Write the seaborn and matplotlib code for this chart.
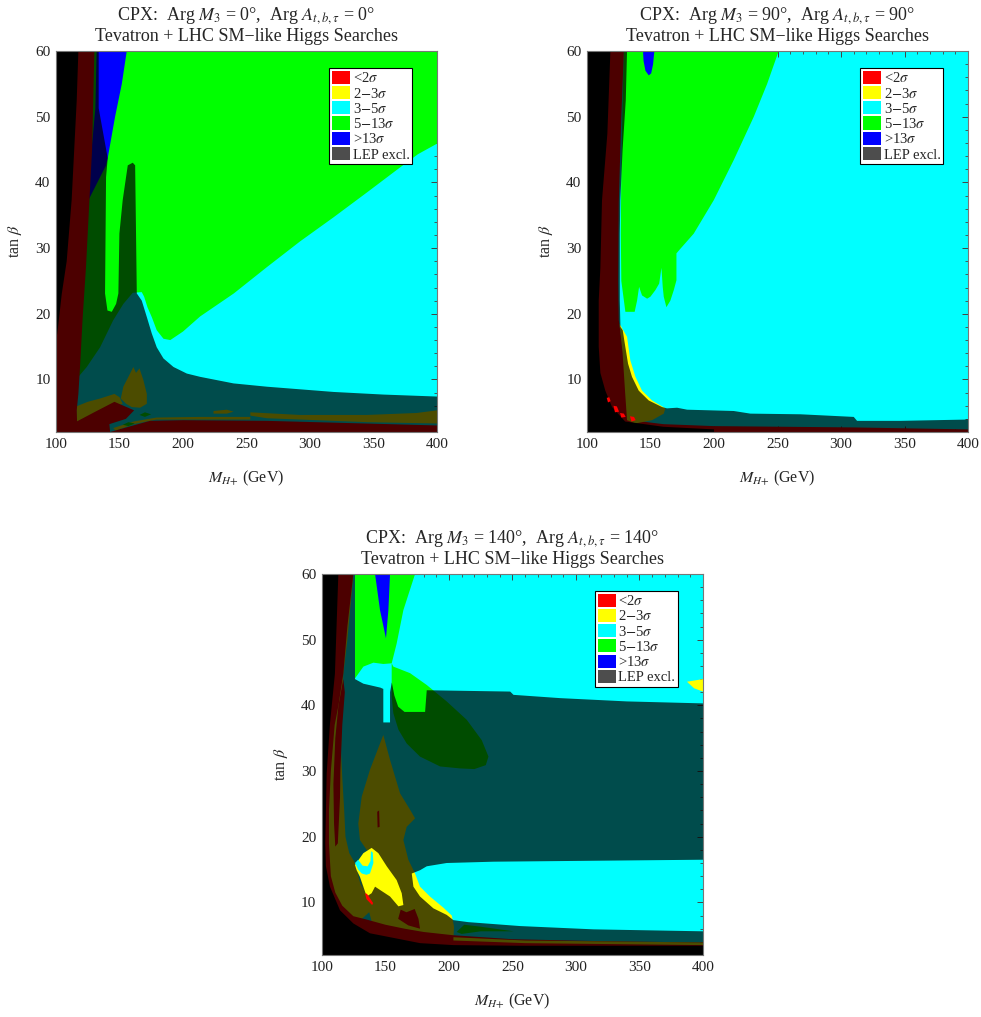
import numpy as np
import matplotlib.pyplot as plt
import seaborn as sns
from matplotlib.patches import Patch

sns.set_theme(style="ticks")
plt.rcParams['font.family'] = ['Liberation Serif', 'DejaVu Serif']
plt.rcParams['mathtext.fontset'] = 'stix'

# kolory obszarów (Mathematica)
RED = "#ff0000"
YELLOW = "#ffff00"
CYAN = "#00ffff"
GREEN = "#00ff00"
BLUE = "#0000ff"
LEP_GRAY = "#4d4d4d"

legend_labels = [r"<2$\sigma$", r"2$-$3$\sigma$", r"3$-$5$\sigma$",
                 r"5$-$13$\sigma$", r">13$\sigma$", "LEP excl."]
legend_colors = [RED, YELLOW, CYAN, GREEN, BLUE, LEP_GRAY]

phases = [0, 90, 140]

# ---------- panel 1: Arg = 0 (punkty: M_H+, tan beta) ----------
p1_green = [(100, 60), (400, 60), (400, 45.9), (385, 44.3), (371, 42.3), (345, 38.5),
            (318.6, 34.7), (292, 31), (266, 27.1), (240, 23.1), (213.5, 19.6), (200, 17.3),
            (190, 16), (184.6, 16.2), (179.3, 17.5), (175.4, 19.5), (172, 21), (169.4, 22.6),
            (167.5, 23.3), (160.4, 23.2), (153, 21.5), (145, 19), (134.7, 14.9),
            (124.2, 11.9), (117.6, 10.4), (100, 10.4)]
p1_blue = [(132, 60), (155.7, 60), (151.8, 55), (146.5, 50), (140.7, 43.7), (139.4, 42.6),
           (125, 37.1), (128, 45), (131, 51.3)]
p1_yellow_band = [(116, 5.9), (125, 6.6), (134.7, 7.1), (146, 7.8), (150, 7.3),
                  (152.5, 6.3), (140, 5.5), (116, 3.5)]
p1_yellow_island = [(151, 7.1), (153, 8.9), (157, 10.4), (160.9, 11.9), (163, 11.0),
                    (165.7, 11.7), (168.8, 9.9), (171.5, 7.8), (171.5, 6.3), (166.2, 5.7),
                    (159.6, 5.8), (155.2, 6.3)]
p1_yellow_dash = [(224, 5.2), (234.5, 5.4), (239.8, 5.1), (234.5, 4.8), (224, 4.8)]
p1_yellow_right = [(253, 5.0), (292, 4.6), (345, 4.6), (384, 4.9), (400, 5.3), (400, 3.3),
                   (345, 3.5), (266, 4.1), (253, 4.5)]
p1_yellow_line = [(145, 2.6), (161, 3.6), (179, 4.2), (213, 4.3), (253, 4.3), (253, 3.9),
                  (179, 3.9), (161, 3.2), (147, 2.2)]
p1_red_band = [(100, 60), (130.2, 60), (128.4, 45), (126.3, 37.3), (123.6, 27.1),
               (121, 19.5), (118.9, 11.9), (117.6, 7.8), (116.3, 5.3), (116.8, 2), (100, 2)]
p1_red_strip = [(142.6, 2), (160.9, 3.0), (174, 3.7), (200, 3.8), (266, 3.7), (400, 3.0),
                (400, 2)]
p1_red_wedge = [(116.3, 2), (116.3, 3.6), (130, 5.0), (146, 6.6), (161.5, 5.3), (155, 4.0),
                (142, 3.2), (142.6, 2)]
p1_green_dot1 = [(165.7, 4.6), (170, 5.0), (174.9, 4.7), (170, 4.3)]
p1_green_dot2 = [(152.5, 3.1), (157, 3.5), (162, 3.3), (157, 2.9)]
p1_lep = [(100, 60), (133.6, 60), (133.6, 51.3), (140.7, 43.7), (139.4, 40.8), (138.6, 23.1),
          (140.5, 20.5), (143.9, 20.3), (147.3, 21.5), (149.1, 23.1), (149.9, 32.2),
          (152.5, 37.3), (156.5, 42.6), (160.4, 43.0), (162.3, 42.6), (163, 32.2),
          (163.6, 23.1), (167.5, 22), (171.5, 19.5), (175.4, 17), (179.3, 14.9),
          (184.6, 13.2), (192.5, 11.9), (203, 10.9), (213.5, 10.4), (239.8, 9.4),
          (266, 8.9), (318.6, 8.1), (358, 7.7), (400, 7.4), (400, 2), (100, 2)]
p1_black = [(100, 60), (117.6, 60), (116.3, 52.5), (112.3, 37.3), (108.4, 28), (104.5, 23),
            (101, 17), (100, 16)]

# ---------- panel 2: Arg = 90 ----------
p2_green = [(128.9, 60), (250.9, 60), (241.8, 55), (231.3, 50), (215.5, 43.4), (199.8, 37.3),
            (184, 32.2), (173.5, 29.9), (170.4, 29.2), (170.4, 25.1), (168.3, 23.6),
            (165.6, 22), (162.5, 21), (160.4, 22.6), (159.6, 24.1), (158.6, 27.0),
            (156.8, 24.6), (153.8, 23.6), (149.9, 22.6), (147.3, 22.3), (143.3, 22.8),
            (141, 24.1), (139.4, 22), (137.5, 20.3), (130.2, 20.3), (127, 25), (126.6, 32.2),
            (127, 42), (128, 52)]
p2_blue = [(144.1, 60), (153, 60), (152, 58), (150.5, 56.6), (148.6, 56.3), (146, 57),
           (144.5, 58.5)]
p2_red = [(100, 60), (129, 60), (127, 50), (125, 37), (124.5, 25), (125, 19), (128, 15),
          (130, 12), (131.5, 8), (131.4, 5.3), (135, 3.8), (160, 3.2), (200, 2.9),
          (310, 2.7), (400, 2.4), (400, 2), (100, 2)]
p2_yellow = [(125.5, 18.5), (131.5, 16.5), (134.1, 12.9), (138.1, 10.4), (143.3, 8.3),
             (151.2, 6.8), (161.7, 5.6), (160.4, 4.8), (151.2, 3.8), (138.1, 3.3),
             (131.5, 3.8), (130, 8), (128, 14)]
p2_lep = [(100, 60), (131.5, 60), (130.5, 52.5), (128, 45), (126.2, 37.3), (125.8, 32.2),
          (125.8, 22), (126.3, 18), (128.1, 17.5), (129.7, 15.5), (132.3, 12.4),
          (135.4, 10.4), (140.7, 8.3), (148.6, 6.8), (159.1, 5.8), (163, 5.6), (170.9, 5.7),
          (178.8, 5.4), (215.5, 5.2), (228.6, 4.8), (268, 4.7), (310, 4.3), (312.6, 3.7),
          (346.8, 3.7), (400, 3.9), (400, 2), (100, 2)]
p2_black = [(100, 60), (118.4, 60), (116, 47.4), (111.8, 37.3), (110.5, 27), (109.2, 22),
            (109.2, 15), (110.5, 11), (114.4, 8.3), (119.7, 5.8), (130, 3.6), (160, 2.8),
            (200, 2.4), (200, 2), (100, 2)]
p2_red_dot1 = [(115.5, 7.2), (117.5, 7.3), (118.6, 6.7), (116.5, 6.5)]
p2_red_dot2 = [(120.8, 6.0), (123.5, 5.9), (125.2, 5.1), (122, 5.0)]
p2_red_dot3 = [(126, 4.9), (129, 4.8), (130.4, 4.3), (127, 4.2)]
p2_red_dot4 = [(133.8, 4.4), (137, 4.3), (138.3, 3.8), (135, 3.6)]

# ---------- panel 3: Arg = 140 ----------
p3_green_top = [(126, 60), (173.3, 60), (164.1, 54.5), (158.8, 49.4), (154.9, 46.4),
                (148.3, 46.3), (140.5, 46.5), (132.6, 45.9), (126, 44.1)]
p3_blue = [(141.8, 60), (153.6, 60), (152.3, 54.5), (150.4, 50.2), (145.7, 54.5)]
p3_green_low = [(154.9, 46.4), (156.2, 45.9), (169.4, 44.9), (182.5, 43.1), (198.2, 40.6),
                (214, 37.8), (225.8, 34.7), (231.1, 32.2), (229, 30.9), (220, 30.3),
                (208.8, 30.4), (193, 30.7), (177.2, 32.2), (166.7, 34.2), (160.2, 36.3),
                (156.2, 38.8), (154.9, 41.3), (154.9, 43.9)]
p3_yellow_right = [(387.4, 43.6), (400, 44), (400, 42.1), (393, 42.6)]
p3_yellow_left = [(100, 2), (100, 60), (124.7, 60), (120, 50), (116.8, 44.8), (115.5, 37.2),
                  (115, 33), (116, 29), (117.5, 24), (118.5, 20), (121.5, 17.5), (126, 16),
                  (130, 13), (135, 11), (140, 9)]
p3_yellow_spike = [(148.3, 35.5), (153.6, 31.7), (161.5, 26.6), (169.4, 24.1), (173.3, 22.8),
                   (166.7, 21.5), (164.1, 19.5), (168, 16.5), (173.3, 14.4), (177.2, 12.4),
                   (185, 10.9), (195.6, 9.2), (202.2, 8.0), (204, 6.3), (203.5, 4.5),
                   (150, 5), (140, 6.5), (135.2, 9.9), (132.6, 11.9), (129.9, 13.9),
                   (131.3, 14.4), (137.8, 14.7), (141.8, 16.2), (139.1, 17.7), (135.2, 18),
                   (129.9, 19.5), (128.6, 22), (131.3, 26.1), (137.8, 30.2)]
p3_red_band = [(100, 60), (124.7, 60), (120, 52), (116.8, 44.8), (113, 40), (110, 37),
               (107, 30), (105.5, 24), (105.5, 19), (107, 14), (110.5, 11.5), (116, 9.5),
               (124.7, 7.9), (135, 7.4), (150, 6.6), (165, 6.0), (180, 5.5), (203.5, 5.0),
               (250, 4.4), (320, 4.1), (400, 3.9), (400, 3.0), (100, 2)]
p3_yellow_bottom = [(203.5, 4.7), (260, 4.2), (400, 3.9), (400, 3.5), (260, 3.8), (203.5, 4.2)]
p3_red_strand = [(116.8, 44), (118, 42), (116, 37), (114.5, 30), (114.2, 26), (112.5, 19),
                 (110.5, 18.5), (109.5, 22), (109, 28), (110.5, 35), (113, 40)]
p3_red_wedge = [(162, 8.9), (166.5, 8.5), (173, 9.0), (176, 7.5), (177.2, 6.0), (168, 6.5),
                (160, 7.5)]
p3_red_dot = [(143.5, 23.8), (145, 24), (145.4, 21.5), (143.8, 21.4)]
p3_green_lens = [(206, 5.5), (212, 6.6), (225, 6.3), (251, 5.6), (225, 5.6), (210, 5.2)]
p3_lep = [(100, 60), (126, 60), (126, 44.0), (132.6, 43.3), (146, 42.7), (148.3, 42.5),
          (148.3, 37.4), (153.6, 37.4), (153.6, 42), (155, 43.5), (157, 41.5), (160, 39.8),
          (165, 39.0), (181.2, 39.0), (182.5, 42.3), (248.2, 42.1), (250.8, 41.6),
          (287.6, 41.1), (340.1, 40.6), (400, 40.3), (400, 16.5), (235, 16.2), (198.2, 16.0),
          (182.5, 15.5), (177.2, 14.9), (170.7, 14.4), (172, 12.4), (177.2, 10.9),
          (187.7, 9.1), (198.2, 8.1), (203.5, 7.3), (215, 7.0), (256, 6.4), (313.8, 5.9),
          (400, 5.6), (400, 2), (100, 2)]
p3_black = [(100, 60), (112.9, 60), (110.2, 44.8), (106.3, 37.2), (103.7, 29.6), (102.6, 19),
            (103.1, 15.5), (106.3, 12.4), (114.2, 8.8), (124.7, 6.8), (137.8, 5.3),
            (151, 4.8), (177.2, 3.8), (203.5, 3.5), (256, 3.4), (400, 3.4), (400, 2), (100, 2)]
p3_yellow_lit = [(126, 15.7), (132.6, 17.5), (139.1, 18.3), (144.4, 17.5), (151, 15.5),
                 (158.8, 13.4), (162.8, 11.4), (164.1, 9.6), (160.2, 9.4), (153.6, 10.9),
                 (145.7, 11.9), (141.8, 12.4), (139.1, 11.4), (135.2, 10.9), (132.6, 12.4),
                 (129.9, 13.9), (127.3, 14.9)]
p3_cyan_hook = [(126, 16.0), (128.5, 15.0), (131.3, 14.4), (135, 14.2), (137.8, 14.4),
                (140.5, 16.0), (140, 17.6), (138.6, 17.8), (138.2, 16.3), (136, 15.5),
                (132, 15.6), (128.5, 16.5)]
p3_red_spot = [(133.9, 11.4), (135.5, 11.3), (140.3, 9.9), (139.5, 9.6), (135, 10.5)]

panels = [
    dict(base=[(p1_green, GREEN), (p1_blue, BLUE), (p1_yellow_band, YELLOW),
               (p1_yellow_island, YELLOW), (p1_yellow_dash, YELLOW), (p1_yellow_right, YELLOW),
               (p1_yellow_line, YELLOW), (p1_red_band, RED), (p1_red_strip, RED),
               (p1_red_wedge, RED), (p1_green_dot1, GREEN), (p1_green_dot2, GREEN)],
         lep=p1_lep, black=p1_black, lit=[]),
    dict(base=[(p2_green, GREEN), (p2_blue, BLUE), (p2_red, RED), (p2_yellow, YELLOW)],
         lep=p2_lep, black=p2_black,
         lit=[(p2_red_dot1, RED), (p2_red_dot2, RED), (p2_red_dot3, RED), (p2_red_dot4, RED)]),
    dict(base=[(p3_green_top, GREEN), (p3_blue, BLUE), (p3_green_low, GREEN),
               (p3_yellow_right, YELLOW), (p3_yellow_left, YELLOW), (p3_yellow_spike, YELLOW),
               (p3_red_band, RED), (p3_yellow_bottom, YELLOW), (p3_red_strand, RED),
               (p3_red_wedge, RED), (p3_red_dot, RED), (p3_green_lens, GREEN)],
         lep=p3_lep, black=p3_black,
         lit=[(p3_yellow_lit, YELLOW), (p3_cyan_hook, CYAN), (p3_red_spot, RED)]),
]


def fill_poly(ax, pts, **kw):
    xs, ys = zip(*pts)
    ax.fill(xs, ys, lw=0, **kw)


fig = plt.figure(figsize=(9.81, 10.17), dpi=100)
positions = [[0.0571, 0.5752, 0.3884, 0.3746],
             [0.5984, 0.5752, 0.3884, 0.3746],
             [0.3282, 0.0610, 0.3884, 0.3746]]

for pos, ph, pan in zip(positions, phases, panels):
    ax = fig.add_axes(pos)
    ax.set_facecolor(CYAN)
    for pts, col in pan['base']:
        fill_poly(ax, pts, color=col)
    # obszar wykluczony przez LEP - przyciemnienie
    fill_poly(ax, pan['lep'], color='black', alpha=0.7)
    fill_poly(ax, pan['black'], color='black')
    for pts, col in pan['lit']:
        fill_poly(ax, pts, color=col)

    ax.set_xlim(100, 400)
    ax.set_ylim(2, 60)
    ax.set_xticks(np.arange(100, 401, 50))
    ax.set_xticks(np.arange(100, 401, 10), minor=True)
    ax.set_yticks(np.arange(10, 61, 10))
    ax.set_yticks(np.arange(2, 61, 2), minor=True)
    ax.tick_params(which='both', direction='in', top=True, right=True, colors='#444444',
                   labelcolor='#222222', labelsize=11, pad=4)
    ax.tick_params(which='major', length=4, width=0.7)
    ax.tick_params(which='minor', length=2, width=0.6)
    for sp in ax.spines.values():
        sp.set_color('#777777')
        sp.set_linewidth(0.8)

    ax.set_xlabel(r"$M_{H{+}}$ (GeV)", fontsize=11.5, labelpad=13)
    ax.set_ylabel(r"tan $\beta$", fontsize=11.5, labelpad=8)
    ax.set_title(rf"CPX:  Arg $M_3$ = {ph}°,  Arg $A_{{t,b,\tau}}$ = {ph}°" + "\n"
                 + "Tevatron + LHC SM\u2212like Higgs Searches",
                 fontsize=13, pad=7, linespacing=1.15)

    handles = [Patch(facecolor=c, edgecolor='none') for c in legend_colors]
    leg = ax.legend(handles, legend_labels, loc='upper left', bbox_to_anchor=(0.717, 0.956),
                    fontsize=10.5, frameon=True, fancybox=False, framealpha=1,
                    edgecolor='black', borderpad=0.2, borderaxespad=0, handlelength=1.25,
                    handleheight=1.0, handletextpad=0.15, labelspacing=0.05)
    leg.get_frame().set_linewidth(0.8)

fig.savefig("out.png", dpi=100)
